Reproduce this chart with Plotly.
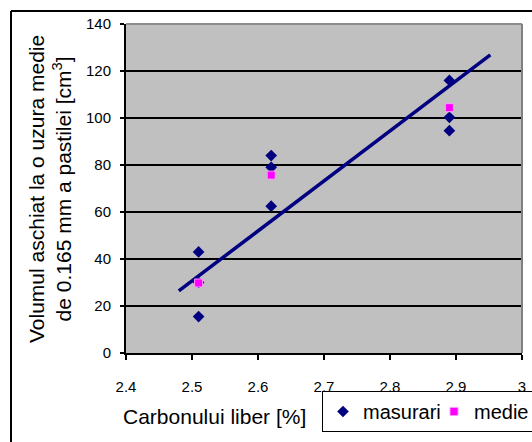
import plotly.graph_objects as go

# ---- data ----
carbon_meas = [2.51, 2.51, 2.51, 2.62, 2.62, 2.62, 2.89, 2.89, 2.89]
volum_meas = [43, 30, 15.5, 84, 79, 62.5, 116, 100.3, 94.6]

carbon_mean = [2.51, 2.62, 2.89]
volum_mean = [29.8, 75.7, 104.4]

trend_x = [2.48, 2.952]
trend_y = [26.4, 126.9]

x_ticks = [2.4, 2.5, 2.6, 2.7, 2.8, 2.9, 3.0]
x_ticklabels = ["2.4", "2.5", "2.6", "2.7", "2.8", "2.9", "3"]
y_ticks = [0, 20, 40, 60, 80, 100, 120, 140]
y_ticklabels = ["0", "20", "40", "60", "80", "100", "120", "140"]

y_title = "Volumul aschiat la o uzura medie<br>de 0.165 mm a pastilei [cm<sup>3</sup>]"
x_title = "Carbonului liber [%]"

NAVY = "#000080"
FONT = "Liberation Sans, Arial, sans-serif"

fig = go.Figure()
fig.add_trace(go.Scatter(
    x=trend_x, y=trend_y, mode="lines",
    line=dict(color=NAVY, width=3.5), showlegend=False, hoverinfo="skip"))
fig.add_trace(go.Scatter(
    x=carbon_meas, y=volum_meas, mode="markers", name="masurari",
    marker=dict(symbol="diamond", size=9, color=NAVY, line=dict(width=0))))
fig.add_trace(go.Scatter(
    x=carbon_mean, y=volum_mean, mode="markers", name="medie",
    marker=dict(symbol="square", size=8, color="#FF00FF",
                line=dict(width=1, color="#FF99FF"))))

# plot area pixel geometry (for paper coordinates)
L, R, T, B = 126, 522, 24, 353
W, H = R - L, B - T
def px(x):
    return (x - L) / W
def py(y):
    return (B - y) / H

fig.update_layout(
    width=532, height=442,
    margin=dict(l=L, r=532 - R, t=T, b=442 - B, autoexpand=False),
    paper_bgcolor="white", plot_bgcolor="#C0C0C0",
    font=dict(family=FONT, color="black", size=15),
    showlegend=True,
    legend=dict(
        orientation="h", x=px(322), y=py(391), xanchor="left", yanchor="top",
        xref="paper", yref="paper",
        bordercolor="black", borderwidth=1, bgcolor="white",
        font=dict(family=FONT, size=20, color="black"),
        itemwidth=30, tracegroupgap=0, entrywidth=66,
    ),
    xaxis=dict(
        range=[2.4, 3.0], tickvals=x_ticks, ticktext=x_ticklabels,
        showgrid=False, zeroline=False, showline=True,
        linecolor="black", linewidth=2, ticks="outside", ticklen=5,
        tickcolor="black", tickwidth=1.5, ticklabelstandoff=14,
        tickfont=dict(family=FONT, size=15, color="black"),
    ),
    yaxis=dict(
        range=[0, 140], tickvals=y_ticks, ticktext=y_ticklabels,
        showgrid=True, gridcolor="black", gridwidth=1.5, zeroline=False,
        showline=True, linecolor="black", linewidth=2, ticks="outside",
        ticklen=4, tickcolor="black", tickwidth=1.5, ticklabelstandoff=6,
        tickfont=dict(family=FONT, size=15, color="black"),
    ),
    annotations=[
        dict(text=y_title, xref="paper", yref="paper", x=px(50), y=py(189),
             xanchor="center", yanchor="middle", textangle=-90, showarrow=False,
             font=dict(family=FONT, size=21, color="black")),
        dict(text=x_title, xref="paper", yref="paper", x=px(214), y=py(416),
             xanchor="center", yanchor="middle", showarrow=False,
             font=dict(family=FONT, size=21, color="black")),
    ],
    shapes=[
        # plot area top and right border (gray)
        dict(type="line", xref="paper", yref="paper", x0=0, x1=1, y0=1, y1=1,
             line=dict(color="#8C8C8C", width=2), layer="above"),
        dict(type="line", xref="paper", yref="paper", x0=1, x1=1, y0=0, y1=1,
             line=dict(color="#808080", width=2), layer="above"),
        # outer chart frame (top and left edges visible)
        dict(type="line", xref="paper", yref="paper",
             x0=px(11), x1=px(560), y0=py(11), y1=py(11),
             line=dict(color="black", width=2), layer="above"),
        dict(type="line", xref="paper", yref="paper",
             x0=px(11), x1=px(11), y0=py(11), y1=py(470),
             line=dict(color="black", width=2), layer="above"),
    ],
)

fig.write_html("out.html")
